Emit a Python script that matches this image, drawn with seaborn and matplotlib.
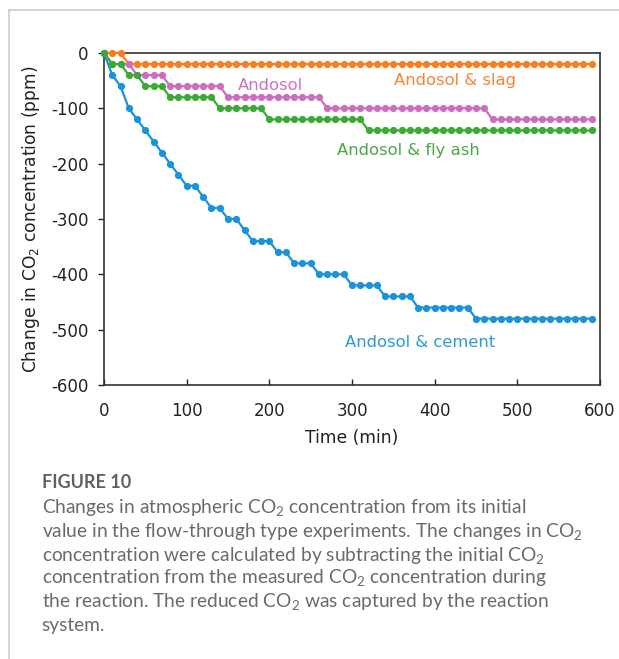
import matplotlib
matplotlib.use("Agg")
import matplotlib.pyplot as plt
from matplotlib.lines import Line2D
import seaborn as sns
import pandas as pd

# ---- data ----
time_min = [0, 10, 20, 30, 40, 50, 60, 70, 80, 90,
            100, 110, 120, 130, 140, 150, 160, 170, 180, 190,
            200, 210, 220, 230, 240, 250, 260, 270, 280, 290,
            300, 310, 320, 330, 340, 350, 360, 370, 380, 390,
            400, 410, 420, 430, 440, 450, 460, 470, 480, 490,
            500, 510, 520, 530, 540, 550, 560, 570, 580, 590]

slag = [0, 0, 0, -20, -20, -20, -20, -20, -20, -20,
        -20, -20, -20, -20, -20, -20, -20, -20, -20, -20,
        -20, -20, -20, -20, -20, -20, -20, -20, -20, -20,
        -20, -20, -20, -20, -20, -20, -20, -20, -20, -20,
        -20, -20, -20, -20, -20, -20, -20, -20, -20, -20,
        -20, -20, -20, -20, -20, -20, -20, -20, -20, -20]

andosol = [0, -20, -20, -20, -40, -40, -40, -40, -60, -60,
           -60, -60, -60, -60, -60, -80, -80, -80, -80, -80,
           -80, -80, -80, -80, -80, -80, -80, -100, -100, -100,
           -100, -100, -100, -100, -100, -100, -100, -100, -100, -100,
           -100, -100, -100, -100, -100, -100, -100, -120, -120, -120,
           -120, -120, -120, -120, -120, -120, -120, -120, -120, -120]

fly_ash = [0, -20, -20, -40, -40, -60, -60, -60, -80, -80,
           -80, -80, -80, -80, -100, -100, -100, -100, -100, -100,
           -120, -120, -120, -120, -120, -120, -120, -120, -120, -120,
           -120, -120, -140, -140, -140, -140, -140, -140, -140, -140,
           -140, -140, -140, -140, -140, -140, -140, -140, -140, -140,
           -140, -140, -140, -140, -140, -140, -140, -140, -140, -140]

cement = [0, -40, -60, -100, -120, -140, -160, -180, -200, -220,
          -240, -240, -260, -280, -280, -300, -300, -320, -340, -340,
          -340, -360, -360, -380, -380, -380, -400, -400, -400, -400,
          -420, -420, -420, -420, -440, -440, -440, -440, -460, -460,
          -460, -460, -460, -460, -460, -480, -480, -480, -480, -480,
          -480, -480, -480, -480, -480, -480, -480, -480, -480, -480]

series_names = ["Andosol & cement", "Andosol & slag", "Andosol", "Andosol & fly ash"]
series_values = [cement, slag, andosol, fly_ash]
series_colors = ["#1b93d9", "#f97d1c", "#cc6ec0", "#3aaa35"]
label_colors = ["#2a9ad9", "#f5843a", "#cf72c1", "#4aa843"]
label_pos = [(383, -524), (424, -49), (201, -58), (368, -177)]

x_ticks = [0, 100, 200, 300, 400, 500, 600]
y_ticks = [0, -100, -200, -300, -400, -500, -600]

caption_title = "FIGURE 10"
caption_lines = [
    r"Changes in atmospheric CO$_2$ concentration from its initial",
    r"value in the flow-through type experiments. The changes in CO$_2$",
    r"concentration were calculated by subtracting the initial CO$_2$",
    r"concentration from the measured CO$_2$ concentration during",
    r"the reaction. The reduced CO$_2$ was captured by the reaction",
    "system.",
]

# ---- styling ----
sns.set_style("white")
plt.rcParams["font.family"] = ["DejaVu Sans"]
plt.rcParams["mathtext.fontset"] = "custom"
plt.rcParams["mathtext.rm"] = "Lato"
plt.rcParams["mathtext.it"] = "Lato"
plt.rcParams["mathtext.default"] = "regular"

W, H = 619, 659
fig = plt.figure(figsize=(W / 100, H / 100), dpi=100)
ax = fig.add_axes([104 / W, 1 - 385 / H, (600 - 104) / W, (385 - 53) / H])

df = pd.concat(
    [pd.DataFrame({"Time": time_min, "Change": vals, "Series": name})
     for name, vals in zip(series_names, series_values)],
    ignore_index=True,
)

for i, (name, col) in enumerate(zip(series_names, series_colors)):
    sub = df[df["Series"] == name]
    sns.lineplot(data=sub, x="Time", y="Change", ax=ax, color=col,
                 marker="o", markersize=5.2, markeredgewidth=0,
                 linewidth=1.6, legend=False, zorder=3 + i, clip_on=False)

for name, col, (tx, ty) in zip(series_names, label_colors, label_pos):
    ax.text(tx, ty, name, color=col, fontsize=11.8, ha="center", va="center")

ax.set_xlim(0, 600)
ax.set_ylim(-600, 0)
ax.set_xticks(x_ticks)
ax.set_yticks(y_ticks)
ax.set_xticklabels([str(v) for v in x_ticks])
ax.set_yticklabels([str(v) for v in y_ticks])
ax.set_xlabel("Time (min)", fontsize=12.3, labelpad=7, color="#222222")
ax.set_ylabel(r"Change in CO$_2$ concentration (ppm)", fontsize=12.3,
              labelpad=7, color="#222222")
ax.tick_params(axis="x", direction="in", length=4, width=1, pad=12,
               labelsize=12, colors="#222222", bottom=True)
ax.tick_params(axis="y", direction="out", length=4, width=1, pad=7,
               labelsize=12, colors="#222222", left=True)
for s in ax.spines.values():
    s.set_visible(True)
    s.set_color("#333333")
    s.set_linewidth(1.2)

# ---- page frame lines ----
fig.add_artist(Line2D([9 / W, 1], [1 - 10 / H, 1 - 10 / H],
                      color="#cccccc", linewidth=1.2, transform=fig.transFigure))
fig.add_artist(Line2D([9 / W, 9 / W], [0, 1 - 10 / H],
                      color="#cccccc", linewidth=1.2, transform=fig.transFigure))

# ---- caption ----
fig.text(41.5 / W, 1 - 482 / H, caption_title, family="Lato", fontweight="bold",
         fontsize=13, color="#606060", va="center", ha="left")
line_y = [507, 531, 555, 578, 601, 625]
for yy, line in zip(line_y, caption_lines):
    fig.text(41.5 / W, 1 - yy / H, line, family="Lato", fontsize=13.8,
             color="#6a6a6a", va="center", ha="left")

fig.savefig("out.png", dpi=100)
